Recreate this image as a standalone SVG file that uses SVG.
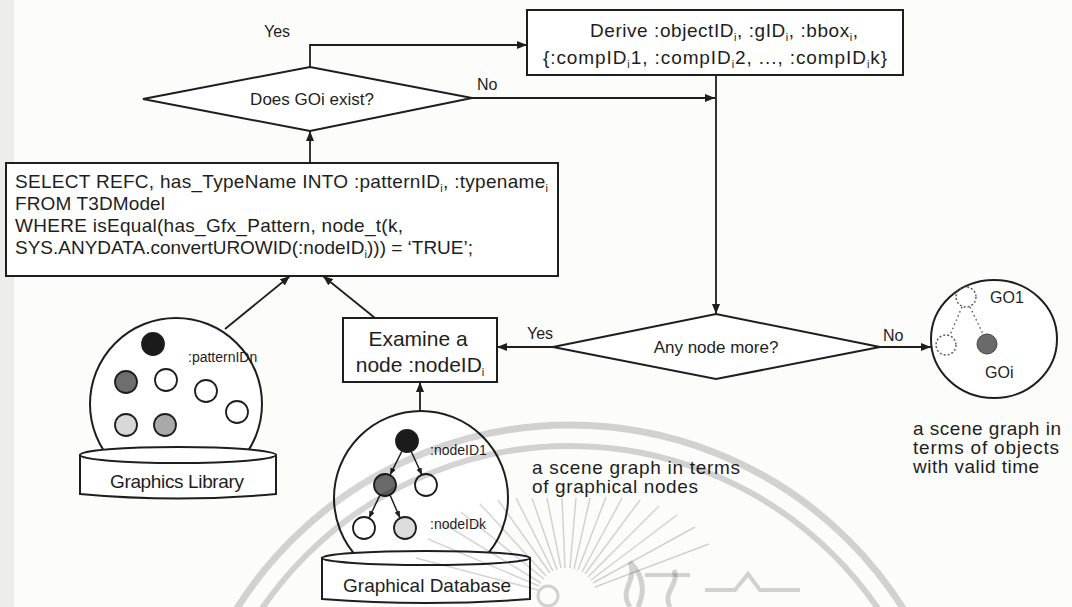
<svg xmlns="http://www.w3.org/2000/svg" width="1072" height="607" viewBox="0 0 1072 607">
  <style>
    .ln{fill:none;stroke:#1e1e1e;stroke-width:1.8}
    .shape{fill:#fff;stroke:#1e1e1e;stroke-width:2}
    .t{font-family:"Liberation Sans",Arial,sans-serif;fill:#1e1e1e}
    .big{font-size:19px}
    .mid{font-size:17px}
    .lbl{font-size:16px}
    .sm{font-size:14px}
    .dot{fill:#fff;stroke:#1e1e1e;stroke-width:1.8}
    .dash{fill:none;stroke:#555;stroke-width:1.4;stroke-dasharray:2 2}
    .wm{fill:none;stroke:#000;stroke-opacity:0.17}
  </style>
  <defs>
    <marker id="ah" viewBox="0 0 10 8" refX="10" refY="4" markerWidth="10" markerHeight="8" markerUnits="userSpaceOnUse" orient="auto">
      <path d="M0,0 L10,4 L0,8 z" fill="#1e1e1e"/>
    </marker>
    <marker id="ahs" viewBox="0 0 10 8" refX="10" refY="4" markerWidth="7" markerHeight="6" markerUnits="userSpaceOnUse" orient="auto">
      <path d="M0,0 L10,4 L0,8 z" fill="#1e1e1e"/>
    </marker>
  </defs>

  <rect width="1072" height="607" fill="#fcfcfb"/>
  <rect x="0" y="0" width="14" height="607" fill="#000" opacity="0.06"/>

  <!-- derive box -->
  <g id="derive">
    <rect class="shape" x="527" y="10" width="376" height="65"/>
    <text class="t big" x="590" y="37" textLength="268">Derive :objectID<tspan dy="4" font-size="11">i</tspan><tspan dy="-4">, :gID</tspan><tspan dy="4" font-size="11">i</tspan><tspan dy="-4">, :bbox</tspan><tspan dy="4" font-size="11">i</tspan><tspan dy="-4">,</tspan></text>
    <text class="t big" x="543" y="64" textLength="344">{:compID<tspan dy="4" font-size="11">i</tspan><tspan dy="-4">1, :compID</tspan><tspan dy="4" font-size="11">i</tspan><tspan dy="-4">2, ..., :compID</tspan><tspan dy="4" font-size="11">i</tspan><tspan dy="-4">k}</tspan></text>
  </g>

  <!-- decision: object exists -->
  <g id="exists">
    <polygon class="shape" points="143,99 310,67 472,98 310,131"/>
    <text class="t mid" x="312" y="105" text-anchor="middle">Does GOi exist?</text>
  </g>

  <!-- pattern lookup query -->
  <g id="query">
    <rect class="shape" x="6" y="163" width="552" height="113"/>
    <text class="t big" x="15" y="188" textLength="533">SELECT REFC, has_TypeName INTO :patternID<tspan dy="4" font-size="11">i</tspan><tspan dy="-4">, :typename</tspan><tspan dy="4" font-size="11">i</tspan></text>
    <text class="t big" x="15" y="210" textLength="150">FROM T3DModel</text>
    <text class="t big" x="15" y="232" textLength="388">WHERE isEqual(has_Gfx_Pattern, node_t(k,</text>
    <text class="t big" x="15" y="254" textLength="458">SYS.ANYDATA.convertUROWID(:nodeID<tspan dy="4" font-size="11">i</tspan><tspan dy="-4">))) = ‘TRUE’;</tspan></text>
  </g>

  <!-- examine node -->
  <g id="examine">
    <rect class="shape" x="343" y="318" width="154" height="64"/>
    <text class="t" font-size="21" x="418" y="346" text-anchor="middle">Examine a</text>
    <text class="t" font-size="21" x="420" y="372" text-anchor="middle">node :nodeID<tspan dy="4" font-size="11">i</tspan></text>
  </g>

  <!-- decision: more nodes -->
  <g id="more">
    <polygon class="shape" points="553,347 716,314 880,347 716,379"/>
    <text class="t mid" x="716" y="353" text-anchor="middle">Any node more?</text>
  </g>

  <!-- graphics library -->
  <g id="library">
    <circle class="shape" cx="176" cy="404" r="86"/>
    <circle class="dot" cx="153" cy="344" r="11" style="fill:#1b1b1b"/>
    <text class="t sm" x="188" y="362">:patternIDn</text>
    <circle class="dot" cx="126" cy="382" r="11" style="fill:#6e6e6e"/>
    <circle class="dot" cx="166" cy="380" r="11"/>
    <circle class="dot" cx="206" cy="391" r="11"/>
    <circle class="dot" cx="237" cy="412" r="11"/>
    <circle class="dot" cx="126" cy="425" r="11" style="fill:#d8d8d8"/>
    <circle class="dot" cx="165" cy="425" r="11" style="fill:#a9a9a9"/>
    <path class="shape" d="M80,455 V494 Q178,503 276,494 V455 Z"/>
    <ellipse class="shape" cx="178" cy="455" rx="98" ry="8"/>
    <text class="t big" x="177" y="488" text-anchor="middle" textLength="134">Graphics Library</text>
  </g>

  <!-- graphical database -->
  <g id="database">
    <circle class="shape" cx="421" cy="498" r="87"/>
    <circle class="dot" cx="407" cy="441" r="11" style="fill:#1b1b1b"/>
    <circle class="dot" cx="385" cy="485" r="11" style="fill:#6a6a6a"/>
    <circle class="dot" cx="426" cy="485" r="11"/>
    <circle class="dot" cx="364" cy="528" r="11"/>
    <circle class="dot" cx="405" cy="528" r="11" style="fill:#dcdcdc"/>
    <g class="ln" style="stroke-width:1.5">
      <path d="M402,451 L390,475" marker-end="url(#ahs)"/>
      <path d="M411,451 L422,475" marker-end="url(#ahs)"/>
      <path d="M380,495 L369,518" marker-end="url(#ahs)"/>
      <path d="M390,495 L400,518" marker-end="url(#ahs)"/>
    </g>
    <text class="t sm" x="430" y="455">:nodeID1</text>
    <text class="t sm" x="430" y="529">:nodeIDk</text>
    <path class="shape" d="M322,558 V599 Q426,607 530,599 V558 Z"/>
    <ellipse class="shape" cx="426" cy="558" rx="104" ry="7"/>
    <text class="t big" x="427" y="592" text-anchor="middle">Graphical Database</text>
  </g>

  <!-- resulting object graph -->
  <g id="objects">
    <ellipse class="shape" cx="994" cy="339" rx="63" ry="59"/>
    <circle class="dash" cx="966" cy="297" r="10"/>
    <circle class="dash" cx="946" cy="345" r="10"/>
    <circle cx="987" cy="344" r="10" fill="#6a6a6a" stroke="#444" stroke-width="1"/>
    <path d="M962,307 L950,335 M970,307 L983,334" fill="none" stroke="#555" stroke-width="1.4" stroke-dasharray="1.5 3"/>
    <text class="t lbl" x="990" y="303">GO1</text>
    <text class="t lbl" x="985" y="378">GOi</text>
  </g>

  <!-- annotations -->
  <g id="notes">
    <text class="t big" x="532" y="474" textLength="208">a scene graph in terms</text>
    <text class="t big" x="532" y="493" textLength="166">of graphical nodes</text>
    <text class="t big" x="913" y="435" textLength="148">a scene graph in</text>
    <text class="t big" x="913" y="454" textLength="146">terms of objects</text>
    <text class="t big" x="913" y="473" textLength="126">with valid time</text>
  </g>

  <!-- connectors -->
  <g id="connectors" class="ln">
    <path d="M310,67 V45 H527" marker-end="url(#ah)"/>
    <path d="M472,98 H715" marker-end="url(#ah)"/>
    <path d="M716,75 V314" marker-end="url(#ah)"/>
    <path d="M553,347 H497" marker-end="url(#ah)"/>
    <path d="M880,347 H931" marker-end="url(#ah)"/>
    <path d="M310,163 V131" marker-end="url(#ah)"/>
    <path d="M375,318 L323,276" marker-end="url(#ah)"/>
    <path d="M225,329 L290,276" marker-end="url(#ah)"/>
    <path d="M420,411 V382" marker-end="url(#ah)"/>
  </g>
  <g id="connector-labels">
    <text class="t lbl" x="264" y="37">Yes</text>
    <text class="t lbl" x="477" y="90">No</text>
    <text class="t lbl" x="527" y="339">Yes</text>
    <text class="t lbl" x="883" y="341">No</text>
  </g>

  <!-- faint seal printed over the page -->
  <g id="seal" class="wm">
    <circle cx="570" cy="819" r="394" stroke-width="7"/>
    <circle cx="570" cy="819" r="373" stroke-width="6"/>
    <circle cx="548" cy="596" r="10" stroke-width="3"/>
    <path stroke-width="1.5" d="M538,590 L416,558 M539,586 L428,539 M541,583 L444,524 M544,579 L461,512 M546,576 L480,504 M550,573 L498,500 M553,571 L516,498 M557,570 L532,498 M561,568 L547,498 M565,568 L562,498 M570,568 L576,498 M574,569 L590,498 M578,570 L606,497 M582,572 L622,498 M585,574 L640,500 M588,577 L659,506 M591,580 L677,515 M593,583 L695,527 M595,587 L709,544"/>
    <path stroke-width="5" d="M630,607 C618,590 638,580 630,562 C646,578 644,594 638,607 M670,607 C662,592 680,584 674,570"/>
    <path stroke-width="4" d="M645,575 H690 M705,590 H735 L748,574 L760,590 H800"/>
  </g>
</svg>
